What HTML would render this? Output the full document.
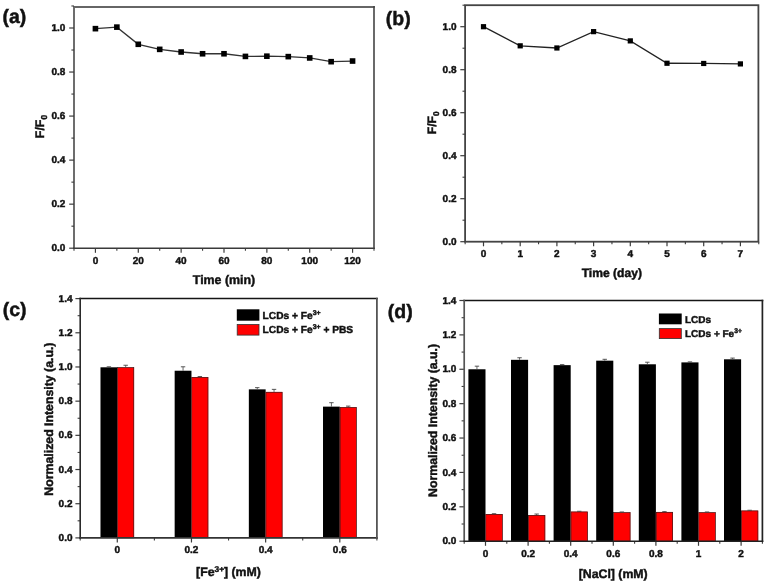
<!DOCTYPE html>
<html><head><meta charset="utf-8"><style>
html,body{margin:0;padding:0;background:#fff;width:766px;height:583px;overflow:hidden}
svg{display:block;will-change:transform}
text{font-family:"Liberation Sans",sans-serif;font-weight:bold;fill:#111;stroke:#111;stroke-width:0.45px;text-rendering:geometricPrecision}
</style></head><body>
<svg width="766" height="583" viewBox="0 0 766 583">
<rect width="766" height="583" fill="#fff"/>
<line x1="74.00" y1="7.00" x2="374.80" y2="7.00" stroke="#666" stroke-width="1.9"/>
<line x1="74.00" y1="6.10" x2="74.00" y2="248.95" stroke="#666" stroke-width="1.9"/>
<line x1="73.05" y1="248.20" x2="374.80" y2="248.20" stroke="#3a3a3a" stroke-width="1.5"/>
<line x1="374.00" y1="6.10" x2="374.00" y2="248.95" stroke="#444" stroke-width="1.6"/>
<line x1="69.20" y1="248.20" x2="74.00" y2="248.20" stroke="#3c3c3c" stroke-width="1.2"/>
<text x="65.40" y="251.30" font-size="10" text-anchor="end" >0.0</text>
<line x1="71.40" y1="226.18" x2="74.00" y2="226.18" stroke="#3c3c3c" stroke-width="1.1"/>
<line x1="69.20" y1="204.16" x2="74.00" y2="204.16" stroke="#3c3c3c" stroke-width="1.2"/>
<text x="65.40" y="207.26" font-size="10" text-anchor="end" >0.2</text>
<line x1="71.40" y1="182.14" x2="74.00" y2="182.14" stroke="#3c3c3c" stroke-width="1.1"/>
<line x1="69.20" y1="160.12" x2="74.00" y2="160.12" stroke="#3c3c3c" stroke-width="1.2"/>
<text x="65.40" y="163.22" font-size="10" text-anchor="end" >0.4</text>
<line x1="71.40" y1="138.10" x2="74.00" y2="138.10" stroke="#3c3c3c" stroke-width="1.1"/>
<line x1="69.20" y1="116.08" x2="74.00" y2="116.08" stroke="#3c3c3c" stroke-width="1.2"/>
<text x="65.40" y="119.18" font-size="10" text-anchor="end" >0.6</text>
<line x1="71.40" y1="94.06" x2="74.00" y2="94.06" stroke="#3c3c3c" stroke-width="1.1"/>
<line x1="69.20" y1="72.04" x2="74.00" y2="72.04" stroke="#3c3c3c" stroke-width="1.2"/>
<text x="65.40" y="75.14" font-size="10" text-anchor="end" >0.8</text>
<line x1="71.40" y1="50.02" x2="74.00" y2="50.02" stroke="#3c3c3c" stroke-width="1.1"/>
<line x1="69.20" y1="28.00" x2="74.00" y2="28.00" stroke="#3c3c3c" stroke-width="1.2"/>
<text x="65.40" y="31.10" font-size="10" text-anchor="end" >1.0</text>
<line x1="71.40" y1="5.98" x2="74.00" y2="5.98" stroke="#3c3c3c" stroke-width="1.1"/>
<line x1="74.00" y1="248.20" x2="74.00" y2="250.80" stroke="#3c3c3c" stroke-width="1.1"/>
<line x1="95.43" y1="248.20" x2="95.43" y2="252.80" stroke="#3c3c3c" stroke-width="1.2"/>
<text x="95.43" y="263.60" font-size="10" text-anchor="middle" >0</text>
<line x1="116.86" y1="248.20" x2="116.86" y2="250.80" stroke="#3c3c3c" stroke-width="1.1"/>
<line x1="138.29" y1="248.20" x2="138.29" y2="252.80" stroke="#3c3c3c" stroke-width="1.2"/>
<text x="138.29" y="263.60" font-size="10" text-anchor="middle" >20</text>
<line x1="159.71" y1="248.20" x2="159.71" y2="250.80" stroke="#3c3c3c" stroke-width="1.1"/>
<line x1="181.14" y1="248.20" x2="181.14" y2="252.80" stroke="#3c3c3c" stroke-width="1.2"/>
<text x="181.14" y="263.60" font-size="10" text-anchor="middle" >40</text>
<line x1="202.57" y1="248.20" x2="202.57" y2="250.80" stroke="#3c3c3c" stroke-width="1.1"/>
<line x1="224.00" y1="248.20" x2="224.00" y2="252.80" stroke="#3c3c3c" stroke-width="1.2"/>
<text x="224.00" y="263.60" font-size="10" text-anchor="middle" >60</text>
<line x1="245.43" y1="248.20" x2="245.43" y2="250.80" stroke="#3c3c3c" stroke-width="1.1"/>
<line x1="266.86" y1="248.20" x2="266.86" y2="252.80" stroke="#3c3c3c" stroke-width="1.2"/>
<text x="266.86" y="263.60" font-size="10" text-anchor="middle" >80</text>
<line x1="288.29" y1="248.20" x2="288.29" y2="250.80" stroke="#3c3c3c" stroke-width="1.1"/>
<line x1="309.71" y1="248.20" x2="309.71" y2="252.80" stroke="#3c3c3c" stroke-width="1.2"/>
<text x="309.71" y="263.60" font-size="10" text-anchor="middle" >100</text>
<line x1="331.14" y1="248.20" x2="331.14" y2="250.80" stroke="#3c3c3c" stroke-width="1.1"/>
<line x1="352.57" y1="248.20" x2="352.57" y2="252.80" stroke="#3c3c3c" stroke-width="1.2"/>
<text x="352.57" y="263.60" font-size="10" text-anchor="middle" >120</text>
<line x1="374.00" y1="248.20" x2="374.00" y2="250.80" stroke="#3c3c3c" stroke-width="1.1"/>
<text x="224.00" y="284.30" font-size="12.4" text-anchor="middle" >Time (min)</text>
<text transform="translate(43.9,126.5) rotate(-90)" font-size="12.4" text-anchor="middle">F/F<tspan font-size="8.5" dy="3">0</tspan></text>
<polyline points="95.43,28.66 116.86,27.12 138.29,44.29 159.71,49.36 181.14,52.00 202.57,53.76 224.00,53.76 245.43,56.41 266.86,56.19 288.29,56.63 309.71,57.95 331.14,61.69 352.57,61.03" fill="none" stroke="#333" stroke-width="1.3"/>
<rect x="92.63" y="25.86" width="5.6" height="5.6" fill="#000"/>
<rect x="114.06" y="24.32" width="5.6" height="5.6" fill="#000"/>
<rect x="135.49" y="41.49" width="5.6" height="5.6" fill="#000"/>
<rect x="156.91" y="46.56" width="5.6" height="5.6" fill="#000"/>
<rect x="178.34" y="49.20" width="5.6" height="5.6" fill="#000"/>
<rect x="199.77" y="50.96" width="5.6" height="5.6" fill="#000"/>
<rect x="221.20" y="50.96" width="5.6" height="5.6" fill="#000"/>
<rect x="242.63" y="53.61" width="5.6" height="5.6" fill="#000"/>
<rect x="264.06" y="53.39" width="5.6" height="5.6" fill="#000"/>
<rect x="285.49" y="53.83" width="5.6" height="5.6" fill="#000"/>
<rect x="306.91" y="55.15" width="5.6" height="5.6" fill="#000"/>
<rect x="328.34" y="58.89" width="5.6" height="5.6" fill="#000"/>
<rect x="349.77" y="58.23" width="5.6" height="5.6" fill="#000"/>
<text x="2.40" y="22.60" font-size="19.5" text-anchor="start" >(a)</text>
<rect x="465.10" y="5.20" width="293.30" height="236.50" fill="none" stroke="#444" stroke-width="1.8"/>
<line x1="460.30" y1="241.70" x2="465.10" y2="241.70" stroke="#3c3c3c" stroke-width="1.2"/>
<text x="456.50" y="244.80" font-size="10" text-anchor="end" >0.0</text>
<line x1="462.50" y1="220.20" x2="465.10" y2="220.20" stroke="#3c3c3c" stroke-width="1.1"/>
<line x1="460.30" y1="198.70" x2="465.10" y2="198.70" stroke="#3c3c3c" stroke-width="1.2"/>
<text x="456.50" y="201.80" font-size="10" text-anchor="end" >0.2</text>
<line x1="462.50" y1="177.20" x2="465.10" y2="177.20" stroke="#3c3c3c" stroke-width="1.1"/>
<line x1="460.30" y1="155.70" x2="465.10" y2="155.70" stroke="#3c3c3c" stroke-width="1.2"/>
<text x="456.50" y="158.80" font-size="10" text-anchor="end" >0.4</text>
<line x1="462.50" y1="134.20" x2="465.10" y2="134.20" stroke="#3c3c3c" stroke-width="1.1"/>
<line x1="460.30" y1="112.70" x2="465.10" y2="112.70" stroke="#3c3c3c" stroke-width="1.2"/>
<text x="456.50" y="115.80" font-size="10" text-anchor="end" >0.6</text>
<line x1="462.50" y1="91.20" x2="465.10" y2="91.20" stroke="#3c3c3c" stroke-width="1.1"/>
<line x1="460.30" y1="69.70" x2="465.10" y2="69.70" stroke="#3c3c3c" stroke-width="1.2"/>
<text x="456.50" y="72.80" font-size="10" text-anchor="end" >0.8</text>
<line x1="462.50" y1="48.20" x2="465.10" y2="48.20" stroke="#3c3c3c" stroke-width="1.1"/>
<line x1="460.30" y1="26.70" x2="465.10" y2="26.70" stroke="#3c3c3c" stroke-width="1.2"/>
<text x="456.50" y="29.80" font-size="10" text-anchor="end" >1.0</text>
<line x1="462.50" y1="5.20" x2="465.10" y2="5.20" stroke="#3c3c3c" stroke-width="1.1"/>
<line x1="465.15" y1="241.70" x2="465.15" y2="244.30" stroke="#3c3c3c" stroke-width="1.1"/>
<line x1="483.50" y1="241.70" x2="483.50" y2="246.30" stroke="#3c3c3c" stroke-width="1.2"/>
<text x="483.50" y="256.80" font-size="10" text-anchor="middle" >0</text>
<line x1="501.85" y1="241.70" x2="501.85" y2="244.30" stroke="#3c3c3c" stroke-width="1.1"/>
<line x1="520.20" y1="241.70" x2="520.20" y2="246.30" stroke="#3c3c3c" stroke-width="1.2"/>
<text x="520.20" y="256.80" font-size="10" text-anchor="middle" >1</text>
<line x1="538.55" y1="241.70" x2="538.55" y2="244.30" stroke="#3c3c3c" stroke-width="1.1"/>
<line x1="556.90" y1="241.70" x2="556.90" y2="246.30" stroke="#3c3c3c" stroke-width="1.2"/>
<text x="556.90" y="256.80" font-size="10" text-anchor="middle" >2</text>
<line x1="575.25" y1="241.70" x2="575.25" y2="244.30" stroke="#3c3c3c" stroke-width="1.1"/>
<line x1="593.60" y1="241.70" x2="593.60" y2="246.30" stroke="#3c3c3c" stroke-width="1.2"/>
<text x="593.60" y="256.80" font-size="10" text-anchor="middle" >3</text>
<line x1="611.95" y1="241.70" x2="611.95" y2="244.30" stroke="#3c3c3c" stroke-width="1.1"/>
<line x1="630.30" y1="241.70" x2="630.30" y2="246.30" stroke="#3c3c3c" stroke-width="1.2"/>
<text x="630.30" y="256.80" font-size="10" text-anchor="middle" >4</text>
<line x1="648.65" y1="241.70" x2="648.65" y2="244.30" stroke="#3c3c3c" stroke-width="1.1"/>
<line x1="667.00" y1="241.70" x2="667.00" y2="246.30" stroke="#3c3c3c" stroke-width="1.2"/>
<text x="667.00" y="256.80" font-size="10" text-anchor="middle" >5</text>
<line x1="685.35" y1="241.70" x2="685.35" y2="244.30" stroke="#3c3c3c" stroke-width="1.1"/>
<line x1="703.70" y1="241.70" x2="703.70" y2="246.30" stroke="#3c3c3c" stroke-width="1.2"/>
<text x="703.70" y="256.80" font-size="10" text-anchor="middle" >6</text>
<line x1="722.05" y1="241.70" x2="722.05" y2="244.30" stroke="#3c3c3c" stroke-width="1.1"/>
<line x1="740.40" y1="241.70" x2="740.40" y2="246.30" stroke="#3c3c3c" stroke-width="1.2"/>
<text x="740.40" y="256.80" font-size="10" text-anchor="middle" >7</text>
<line x1="758.75" y1="241.70" x2="758.75" y2="244.30" stroke="#3c3c3c" stroke-width="1.1"/>
<text x="611.80" y="276.80" font-size="12.1" text-anchor="middle" >Time (day)</text>
<text transform="translate(435.5,122.8) rotate(-90)" font-size="12.1" text-anchor="middle">F/F<tspan font-size="8.3" dy="3">0</tspan></text>
<polyline points="483.50,26.70 520.20,45.83 556.90,47.98 593.60,31.64 630.30,40.89 667.00,63.25 703.70,63.47 740.40,63.90" fill="none" stroke="#222" stroke-width="1.3"/>
<rect x="480.90" y="24.10" width="5.2" height="5.2" fill="#000"/>
<rect x="517.60" y="43.23" width="5.2" height="5.2" fill="#000"/>
<rect x="554.30" y="45.38" width="5.2" height="5.2" fill="#000"/>
<rect x="591.00" y="29.04" width="5.2" height="5.2" fill="#000"/>
<rect x="627.70" y="38.29" width="5.2" height="5.2" fill="#000"/>
<rect x="664.40" y="60.65" width="5.2" height="5.2" fill="#000"/>
<rect x="701.10" y="60.87" width="5.2" height="5.2" fill="#000"/>
<rect x="737.80" y="61.30" width="5.2" height="5.2" fill="#000"/>
<text x="385.80" y="24.70" font-size="19.5" text-anchor="start" >(b)</text>
<line x1="75.40" y1="537.90" x2="80.20" y2="537.90" stroke="#3c3c3c" stroke-width="1.2"/>
<text x="72.50" y="541.00" font-size="10" text-anchor="end" >0.0</text>
<line x1="77.60" y1="520.81" x2="80.20" y2="520.81" stroke="#3c3c3c" stroke-width="1.1"/>
<line x1="75.40" y1="503.71" x2="80.20" y2="503.71" stroke="#3c3c3c" stroke-width="1.2"/>
<text x="72.50" y="506.81" font-size="10" text-anchor="end" >0.2</text>
<line x1="77.60" y1="486.62" x2="80.20" y2="486.62" stroke="#3c3c3c" stroke-width="1.1"/>
<line x1="75.40" y1="469.53" x2="80.20" y2="469.53" stroke="#3c3c3c" stroke-width="1.2"/>
<text x="72.50" y="472.63" font-size="10" text-anchor="end" >0.4</text>
<line x1="77.60" y1="452.44" x2="80.20" y2="452.44" stroke="#3c3c3c" stroke-width="1.1"/>
<line x1="75.40" y1="435.34" x2="80.20" y2="435.34" stroke="#3c3c3c" stroke-width="1.2"/>
<text x="72.50" y="438.44" font-size="10" text-anchor="end" >0.6</text>
<line x1="77.60" y1="418.25" x2="80.20" y2="418.25" stroke="#3c3c3c" stroke-width="1.1"/>
<line x1="75.40" y1="401.16" x2="80.20" y2="401.16" stroke="#3c3c3c" stroke-width="1.2"/>
<text x="72.50" y="404.26" font-size="10" text-anchor="end" >0.8</text>
<line x1="77.60" y1="384.06" x2="80.20" y2="384.06" stroke="#3c3c3c" stroke-width="1.1"/>
<line x1="75.40" y1="366.97" x2="80.20" y2="366.97" stroke="#3c3c3c" stroke-width="1.2"/>
<text x="72.50" y="370.07" font-size="10" text-anchor="end" >1.0</text>
<line x1="77.60" y1="349.88" x2="80.20" y2="349.88" stroke="#3c3c3c" stroke-width="1.1"/>
<line x1="75.40" y1="332.79" x2="80.20" y2="332.79" stroke="#3c3c3c" stroke-width="1.2"/>
<text x="72.50" y="335.89" font-size="10" text-anchor="end" >1.2</text>
<line x1="77.60" y1="315.69" x2="80.20" y2="315.69" stroke="#3c3c3c" stroke-width="1.1"/>
<line x1="75.40" y1="298.60" x2="80.20" y2="298.60" stroke="#3c3c3c" stroke-width="1.2"/>
<text x="72.50" y="301.70" font-size="10" text-anchor="end" >1.4</text>
<rect x="100.49" y="367.31" width="16.80" height="170.59" fill="#000"/>
<rect x="117.29" y="367.31" width="16.80" height="170.59" fill="#f00"/>
<rect x="117.59" y="367.61" width="16.20" height="170.29" fill="none" stroke="#222" stroke-width="0.6"/>
<line x1="108.89" y1="366.80" x2="108.89" y2="367.31" stroke="#444" stroke-width="0.8"/>
<line x1="106.69" y1="366.80" x2="111.09" y2="366.80" stroke="#444" stroke-width="0.9"/>
<line x1="125.69" y1="365.26" x2="125.69" y2="367.31" stroke="#444" stroke-width="0.8"/>
<line x1="123.49" y1="365.26" x2="127.89" y2="365.26" stroke="#444" stroke-width="0.9"/>
<rect x="174.66" y="370.73" width="16.80" height="167.17" fill="#000"/>
<rect x="191.46" y="377.06" width="16.80" height="160.84" fill="#f00"/>
<rect x="191.76" y="377.36" width="16.20" height="160.54" fill="none" stroke="#222" stroke-width="0.6"/>
<line x1="183.06" y1="366.80" x2="183.06" y2="370.73" stroke="#444" stroke-width="0.8"/>
<line x1="180.86" y1="366.80" x2="185.26" y2="366.80" stroke="#444" stroke-width="0.9"/>
<line x1="199.86" y1="376.54" x2="199.86" y2="377.06" stroke="#444" stroke-width="0.8"/>
<line x1="197.66" y1="376.54" x2="202.06" y2="376.54" stroke="#444" stroke-width="0.9"/>
<rect x="248.84" y="389.36" width="16.80" height="148.54" fill="#000"/>
<rect x="265.64" y="391.93" width="16.80" height="145.97" fill="#f00"/>
<rect x="265.94" y="392.23" width="16.20" height="145.67" fill="none" stroke="#222" stroke-width="0.6"/>
<line x1="257.24" y1="387.65" x2="257.24" y2="389.36" stroke="#444" stroke-width="0.8"/>
<line x1="255.04" y1="387.65" x2="259.44" y2="387.65" stroke="#444" stroke-width="0.9"/>
<line x1="274.04" y1="389.36" x2="274.04" y2="391.93" stroke="#444" stroke-width="0.8"/>
<line x1="271.84" y1="389.36" x2="276.24" y2="389.36" stroke="#444" stroke-width="0.9"/>
<rect x="323.01" y="406.63" width="16.80" height="131.27" fill="#000"/>
<rect x="339.81" y="407.14" width="16.80" height="130.76" fill="#f00"/>
<rect x="340.11" y="407.44" width="16.20" height="130.46" fill="none" stroke="#222" stroke-width="0.6"/>
<line x1="331.41" y1="402.70" x2="331.41" y2="406.63" stroke="#444" stroke-width="0.8"/>
<line x1="329.21" y1="402.70" x2="333.61" y2="402.70" stroke="#444" stroke-width="0.9"/>
<line x1="348.21" y1="406.11" x2="348.21" y2="407.14" stroke="#444" stroke-width="0.8"/>
<line x1="346.01" y1="406.11" x2="350.41" y2="406.11" stroke="#444" stroke-width="0.9"/>
<line x1="117.29" y1="537.90" x2="117.29" y2="542.50" stroke="#3c3c3c" stroke-width="1.2"/>
<text x="117.29" y="553.10" font-size="10" text-anchor="middle" >0</text>
<line x1="80.20" y1="537.90" x2="80.20" y2="540.50" stroke="#3c3c3c" stroke-width="1.1"/>
<line x1="191.46" y1="537.90" x2="191.46" y2="542.50" stroke="#3c3c3c" stroke-width="1.2"/>
<text x="191.46" y="553.10" font-size="10" text-anchor="middle" >0.2</text>
<line x1="154.38" y1="537.90" x2="154.38" y2="540.50" stroke="#3c3c3c" stroke-width="1.1"/>
<line x1="265.64" y1="537.90" x2="265.64" y2="542.50" stroke="#3c3c3c" stroke-width="1.2"/>
<text x="265.64" y="553.10" font-size="10" text-anchor="middle" >0.4</text>
<line x1="228.55" y1="537.90" x2="228.55" y2="540.50" stroke="#3c3c3c" stroke-width="1.1"/>
<line x1="339.81" y1="537.90" x2="339.81" y2="542.50" stroke="#3c3c3c" stroke-width="1.2"/>
<text x="339.81" y="553.10" font-size="10" text-anchor="middle" >0.6</text>
<line x1="302.72" y1="537.90" x2="302.72" y2="540.50" stroke="#3c3c3c" stroke-width="1.1"/>
<line x1="376.90" y1="537.90" x2="376.90" y2="540.50" stroke="#3c3c3c" stroke-width="1.1"/>
<line x1="79.40" y1="298.60" x2="377.80" y2="298.60" stroke="#151515" stroke-width="1.5"/>
<line x1="80.20" y1="297.85" x2="80.20" y2="538.65" stroke="#2a2a2a" stroke-width="1.6"/>
<line x1="79.40" y1="537.90" x2="377.80" y2="537.90" stroke="#333" stroke-width="1.6"/>
<line x1="376.90" y1="297.85" x2="376.90" y2="538.65" stroke="#555" stroke-width="1.8"/>
<text x="228.50" y="576.00" font-size="12.3" text-anchor="middle" >[Fe<tspan font-size="8.3" dy="-4.5">3+</tspan><tspan dy="4.5">] (mM)</tspan></text>
<text transform="translate(53.4,419.1) rotate(-90)" font-size="12.3" text-anchor="middle">Normalized Intensity (a.u.)</text>
<rect x="236.8" y="309.3" width="22.6" height="11.4" fill="#000"/>
<rect x="237.2" y="324.5" width="21.8" height="10.6" fill="#f00" stroke="#333" stroke-width="0.8"/>
<text x="262.60" y="319.00" font-size="10.2" text-anchor="start" >LCDs + Fe<tspan font-size="6.9" dy="-4.4">3+</tspan></text>
<text x="262.60" y="333.10" font-size="10.2" text-anchor="start" >LCDs + Fe<tspan font-size="6.9" dy="-4.4">3+</tspan><tspan dy="4.4"> + PBS</tspan></text>
<text x="2.70" y="315.70" font-size="19.5" text-anchor="start" >(c)</text>
<line x1="459.40" y1="541.20" x2="464.20" y2="541.20" stroke="#3c3c3c" stroke-width="1.2"/>
<text x="456.30" y="544.30" font-size="10" text-anchor="end" >0.0</text>
<line x1="461.60" y1="524.01" x2="464.20" y2="524.01" stroke="#3c3c3c" stroke-width="1.1"/>
<line x1="459.40" y1="506.81" x2="464.20" y2="506.81" stroke="#3c3c3c" stroke-width="1.2"/>
<text x="456.30" y="509.91" font-size="10" text-anchor="end" >0.2</text>
<line x1="461.60" y1="489.62" x2="464.20" y2="489.62" stroke="#3c3c3c" stroke-width="1.1"/>
<line x1="459.40" y1="472.43" x2="464.20" y2="472.43" stroke="#3c3c3c" stroke-width="1.2"/>
<text x="456.30" y="475.53" font-size="10" text-anchor="end" >0.4</text>
<line x1="461.60" y1="455.24" x2="464.20" y2="455.24" stroke="#3c3c3c" stroke-width="1.1"/>
<line x1="459.40" y1="438.04" x2="464.20" y2="438.04" stroke="#3c3c3c" stroke-width="1.2"/>
<text x="456.30" y="441.14" font-size="10" text-anchor="end" >0.6</text>
<line x1="461.60" y1="420.85" x2="464.20" y2="420.85" stroke="#3c3c3c" stroke-width="1.1"/>
<line x1="459.40" y1="403.66" x2="464.20" y2="403.66" stroke="#3c3c3c" stroke-width="1.2"/>
<text x="456.30" y="406.76" font-size="10" text-anchor="end" >0.8</text>
<line x1="461.60" y1="386.46" x2="464.20" y2="386.46" stroke="#3c3c3c" stroke-width="1.1"/>
<line x1="459.40" y1="369.27" x2="464.20" y2="369.27" stroke="#3c3c3c" stroke-width="1.2"/>
<text x="456.30" y="372.37" font-size="10" text-anchor="end" >1.0</text>
<line x1="461.60" y1="352.08" x2="464.20" y2="352.08" stroke="#3c3c3c" stroke-width="1.1"/>
<line x1="459.40" y1="334.89" x2="464.20" y2="334.89" stroke="#3c3c3c" stroke-width="1.2"/>
<text x="456.30" y="337.99" font-size="10" text-anchor="end" >1.2</text>
<line x1="461.60" y1="317.69" x2="464.20" y2="317.69" stroke="#3c3c3c" stroke-width="1.1"/>
<line x1="459.40" y1="300.50" x2="464.20" y2="300.50" stroke="#3c3c3c" stroke-width="1.2"/>
<text x="456.30" y="303.60" font-size="10" text-anchor="end" >1.4</text>
<rect x="468.40" y="369.27" width="17.10" height="171.93" fill="#000"/>
<rect x="485.50" y="514.04" width="17.10" height="27.16" fill="#f00"/>
<rect x="485.80" y="514.34" width="16.50" height="26.86" fill="none" stroke="#222" stroke-width="0.6"/>
<line x1="476.95" y1="366.18" x2="476.95" y2="369.27" stroke="#444" stroke-width="0.8"/>
<line x1="474.75" y1="366.18" x2="479.15" y2="366.18" stroke="#444" stroke-width="0.9"/>
<line x1="494.05" y1="513.69" x2="494.05" y2="514.04" stroke="#444" stroke-width="0.8"/>
<line x1="491.85" y1="513.69" x2="496.25" y2="513.69" stroke="#444" stroke-width="0.9"/>
<rect x="511.00" y="359.82" width="17.10" height="181.38" fill="#000"/>
<rect x="528.10" y="515.07" width="17.10" height="26.13" fill="#f00"/>
<rect x="528.40" y="515.37" width="16.50" height="25.83" fill="none" stroke="#222" stroke-width="0.6"/>
<line x1="519.55" y1="357.75" x2="519.55" y2="359.82" stroke="#444" stroke-width="0.8"/>
<line x1="517.35" y1="357.75" x2="521.75" y2="357.75" stroke="#444" stroke-width="0.9"/>
<line x1="536.65" y1="514.04" x2="536.65" y2="515.07" stroke="#444" stroke-width="0.8"/>
<line x1="534.45" y1="514.04" x2="538.85" y2="514.04" stroke="#444" stroke-width="0.9"/>
<rect x="553.60" y="365.15" width="17.10" height="176.05" fill="#000"/>
<rect x="570.70" y="511.63" width="17.10" height="29.57" fill="#f00"/>
<rect x="571.00" y="511.93" width="16.50" height="29.27" fill="none" stroke="#222" stroke-width="0.6"/>
<line x1="562.15" y1="364.63" x2="562.15" y2="365.15" stroke="#444" stroke-width="0.8"/>
<line x1="559.95" y1="364.63" x2="564.35" y2="364.63" stroke="#444" stroke-width="0.9"/>
<line x1="579.25" y1="511.28" x2="579.25" y2="511.63" stroke="#444" stroke-width="0.8"/>
<line x1="577.05" y1="511.28" x2="581.45" y2="511.28" stroke="#444" stroke-width="0.9"/>
<rect x="596.20" y="360.67" width="17.10" height="180.53" fill="#000"/>
<rect x="613.30" y="512.32" width="17.10" height="28.88" fill="#f00"/>
<rect x="613.60" y="512.62" width="16.50" height="28.58" fill="none" stroke="#222" stroke-width="0.6"/>
<line x1="604.75" y1="359.30" x2="604.75" y2="360.67" stroke="#444" stroke-width="0.8"/>
<line x1="602.55" y1="359.30" x2="606.95" y2="359.30" stroke="#444" stroke-width="0.9"/>
<line x1="621.85" y1="511.97" x2="621.85" y2="512.32" stroke="#444" stroke-width="0.8"/>
<line x1="619.65" y1="511.97" x2="624.05" y2="511.97" stroke="#444" stroke-width="0.9"/>
<rect x="638.80" y="364.29" width="17.10" height="176.91" fill="#000"/>
<rect x="655.90" y="511.97" width="17.10" height="29.23" fill="#f00"/>
<rect x="656.20" y="512.27" width="16.50" height="28.93" fill="none" stroke="#222" stroke-width="0.6"/>
<line x1="647.35" y1="362.22" x2="647.35" y2="364.29" stroke="#444" stroke-width="0.8"/>
<line x1="645.15" y1="362.22" x2="649.55" y2="362.22" stroke="#444" stroke-width="0.9"/>
<line x1="664.45" y1="511.63" x2="664.45" y2="511.97" stroke="#444" stroke-width="0.8"/>
<line x1="662.25" y1="511.63" x2="666.65" y2="511.63" stroke="#444" stroke-width="0.9"/>
<rect x="681.40" y="362.39" width="17.10" height="178.81" fill="#000"/>
<rect x="698.50" y="512.32" width="17.10" height="28.88" fill="#f00"/>
<rect x="698.80" y="512.62" width="16.50" height="28.58" fill="none" stroke="#222" stroke-width="0.6"/>
<line x1="689.95" y1="361.88" x2="689.95" y2="362.39" stroke="#444" stroke-width="0.8"/>
<line x1="687.75" y1="361.88" x2="692.15" y2="361.88" stroke="#444" stroke-width="0.9"/>
<line x1="707.05" y1="511.97" x2="707.05" y2="512.32" stroke="#444" stroke-width="0.8"/>
<line x1="704.85" y1="511.97" x2="709.25" y2="511.97" stroke="#444" stroke-width="0.9"/>
<rect x="724.00" y="359.30" width="17.10" height="181.90" fill="#000"/>
<rect x="741.10" y="510.60" width="17.10" height="30.60" fill="#f00"/>
<rect x="741.40" y="510.90" width="16.50" height="30.30" fill="none" stroke="#222" stroke-width="0.6"/>
<line x1="732.55" y1="358.10" x2="732.55" y2="359.30" stroke="#444" stroke-width="0.8"/>
<line x1="730.35" y1="358.10" x2="734.75" y2="358.10" stroke="#444" stroke-width="0.9"/>
<line x1="749.65" y1="510.25" x2="749.65" y2="510.60" stroke="#444" stroke-width="0.8"/>
<line x1="747.45" y1="510.25" x2="751.85" y2="510.25" stroke="#444" stroke-width="0.9"/>
<line x1="485.50" y1="541.20" x2="485.50" y2="545.80" stroke="#3c3c3c" stroke-width="1.2"/>
<text x="485.50" y="556.60" font-size="10" text-anchor="middle" >0</text>
<line x1="464.20" y1="541.20" x2="464.20" y2="543.80" stroke="#3c3c3c" stroke-width="1.1"/>
<line x1="528.10" y1="541.20" x2="528.10" y2="545.80" stroke="#3c3c3c" stroke-width="1.2"/>
<text x="528.10" y="556.60" font-size="10" text-anchor="middle" >0.2</text>
<line x1="506.80" y1="541.20" x2="506.80" y2="543.80" stroke="#3c3c3c" stroke-width="1.1"/>
<line x1="570.70" y1="541.20" x2="570.70" y2="545.80" stroke="#3c3c3c" stroke-width="1.2"/>
<text x="570.70" y="556.60" font-size="10" text-anchor="middle" >0.4</text>
<line x1="549.40" y1="541.20" x2="549.40" y2="543.80" stroke="#3c3c3c" stroke-width="1.1"/>
<line x1="613.30" y1="541.20" x2="613.30" y2="545.80" stroke="#3c3c3c" stroke-width="1.2"/>
<text x="613.30" y="556.60" font-size="10" text-anchor="middle" >0.6</text>
<line x1="592.00" y1="541.20" x2="592.00" y2="543.80" stroke="#3c3c3c" stroke-width="1.1"/>
<line x1="655.90" y1="541.20" x2="655.90" y2="545.80" stroke="#3c3c3c" stroke-width="1.2"/>
<text x="655.90" y="556.60" font-size="10" text-anchor="middle" >0.8</text>
<line x1="634.60" y1="541.20" x2="634.60" y2="543.80" stroke="#3c3c3c" stroke-width="1.1"/>
<line x1="698.50" y1="541.20" x2="698.50" y2="545.80" stroke="#3c3c3c" stroke-width="1.2"/>
<text x="698.50" y="556.60" font-size="10" text-anchor="middle" >1</text>
<line x1="677.20" y1="541.20" x2="677.20" y2="543.80" stroke="#3c3c3c" stroke-width="1.1"/>
<line x1="741.10" y1="541.20" x2="741.10" y2="545.80" stroke="#3c3c3c" stroke-width="1.2"/>
<text x="741.10" y="556.60" font-size="10" text-anchor="middle" >2</text>
<line x1="719.80" y1="541.20" x2="719.80" y2="543.80" stroke="#3c3c3c" stroke-width="1.1"/>
<line x1="762.40" y1="541.20" x2="762.40" y2="543.80" stroke="#3c3c3c" stroke-width="1.1"/>
<line x1="463.40" y1="300.50" x2="763.30" y2="300.50" stroke="#151515" stroke-width="1.5"/>
<line x1="464.20" y1="299.75" x2="464.20" y2="541.95" stroke="#555" stroke-width="1.7"/>
<line x1="463.40" y1="541.20" x2="763.30" y2="541.20" stroke="#222" stroke-width="1.6"/>
<line x1="762.40" y1="299.75" x2="762.40" y2="541.95" stroke="#222" stroke-width="1.7"/>
<text x="613.20" y="577.60" font-size="12.3" text-anchor="middle" >[NaCl] (mM)</text>
<text transform="translate(437.3,420.4) rotate(-90)" font-size="12.3" text-anchor="middle">Normalized Intensity (a.u.)</text>
<rect x="658.9" y="313.5" width="22.8" height="10.8" fill="#000"/>
<rect x="659.3" y="328.6" width="22" height="10" fill="#f00" stroke="#333" stroke-width="0.8"/>
<text x="685.00" y="322.60" font-size="10" text-anchor="start" >LCDs</text>
<text x="685.00" y="336.70" font-size="10" text-anchor="start" >LCDs + Fe<tspan font-size="6.8" dy="-4.2">3+</tspan></text>
<text x="387.80" y="317.90" font-size="19.5" text-anchor="start" >(d)</text>
</svg></body></html>
